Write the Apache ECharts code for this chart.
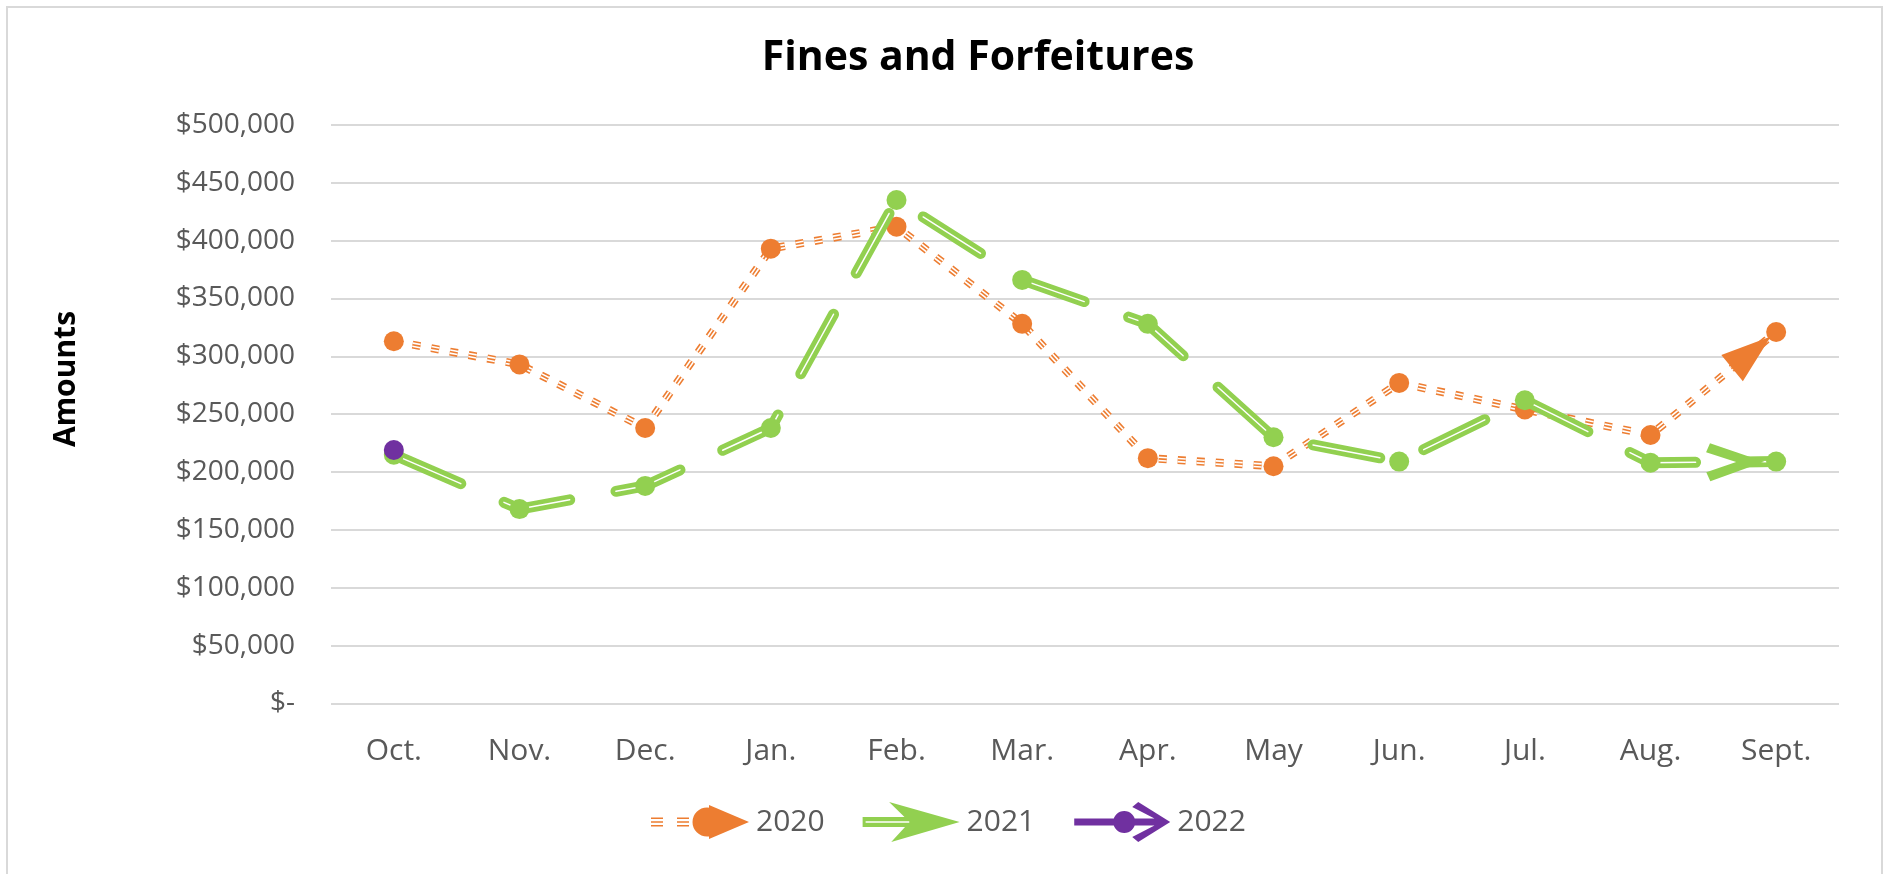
<!DOCTYPE html>
<html>
<head>
<meta charset="utf-8">
<title>Fines and Forfeitures</title>
<script src="https://cdn.jsdelivr.net/npm/echarts@6/dist/echarts.min.js"></script>
<style>
  html, body { margin: 0; padding: 0; background: #ffffff; }
  #chart { width: 1887px; height: 874px; }
</style>
</head>
<body>
<div id="chart"></div>
<script>
// Monthly fines and forfeitures by fiscal year
const months = ['Oct.', 'Nov.', 'Dec.', 'Jan.', 'Feb.', 'Mar.', 'Apr.', 'May', 'Jun.', 'Jul.', 'Aug.', 'Sept.'];
const fy2020 = [313000, 293000, 238000, 393000, 412000, 328000, 212000, 205000, 277000, 254000, 232000, 321000];
const fy2021 = [215000, 168000, 188000, 238000, 435000, 366000, 328000, 230000, 209000, 262000, 208000, 209000];
const fy2022 = [219000, null, null, null, null, null, null, null, null, null, null, null];
const yearNames = ['2020', '2021', '2022'];

// value axis range
const yMin = 0;
const yMax = 500000;
const yStep = 50000;

const ORANGE = '#ED7D31';
const GREEN = '#92D050';
const PURPLE = '#7030A0';
const FONT = 'Open Sans';

// Legend glyphs (100 x 40 boxes; the corner specks pin the bounding box)
const BOX = 'M0,0L0.01,0ZM100,40L99.99,40Z';
function stripes(x0) {
  return ['15.5', '19.2', '22.9'].map(function (y) {
    return 'M' + x0 + ',' + y + 'L' + (x0 + 12) + ',' + y + 'L' + (x0 + 12) + ',' + (+y + 1.6) + 'L' + x0 + ',' + (+y + 1.6) + 'Z';
  }).join('');
}
const icon2020 = 'path://' + BOX + stripes(0) + stripes(26) +
  'M41.5,20A14.5,14.5 0 1 1 70.5,20A14.5,14.5 0 1 1 41.5,20Z' +
  'M58,3L98,20L58,37Z';
const icon2021 = 'path://' + BOX +
  'M1,15L50,15L50,25L1,25Z' +
  'M4,19.3L4,20.7L50,20.7L50,19.3Z' +
  'M27.5,0L98,20L29.6,40L48,20Z';
const icon2022 = 'path://' + BOX +
  'M2,16.5L92,16.5L92,23.5L2,23.5Z' +
  'M41,20A11,11 0 1 1 63,20A11,11 0 1 1 41,20Z' +
  'M66,0L98,20L66,40L60,35L89,20L60,5Z';

// Line-end arrows, pointing up, tip at (0,0); square boxes so the symbol keeps its shape
const arrowTriangle = 'path://M-57,-64L-56.99,-64ZM57,50L56.99,50Z' +
  'M0,0L17,50L-17,50Z';
const arrowOpen = 'path://M-70,-84L-69.99,-84ZM70,56L69.99,56Z' +
  'M0,-2L19,52L10,56L0,26L-10,56L-19,52Z';

function endArrow(values, color, symbol, size, z) {
  const last = values.length - 1;
  return {
    silent: true,
    animation: false,
    z: z,
    symbol: ['none', symbol],
    symbolSize: size,
    label: { show: false },
    emphasis: { disabled: true },
    lineStyle: { color: color, width: 0, type: 'solid', opacity: 1 },
    data: [[
      { coord: [last - 1, values[last - 1]] },
      { coord: [last, values[last]] }
    ]]
  };
}

function layer(name, values, color, width, dash, cap, z, extra) {
  return Object.assign({
    type: 'line',
    name: name,
    data: values,
    z: z,
    silent: true,
    symbol: 'none',
    showSymbol: false,
    itemStyle: { color: color },
    lineStyle: { color: color, width: width, type: dash, cap: cap, join: 'round' },
    emphasis: { disabled: true }
  }, extra || {});
}

function markers(name, values, color, z) {
  return {
    type: 'line',
    name: name,
    data: values,
    z: z,
    silent: true,
    symbol: 'circle',
    symbolSize: 20,
    showSymbol: true,
    itemStyle: { color: color, borderWidth: 0 },
    lineStyle: { width: 0 },
    emphasis: { disabled: true }
  };
}

const dash2020 = [8, 11];
const dash2021 = [68, 47];

const series = [
  // 2020: triple compound dashed line
  layer('2020', fy2020, ORANGE, 8, dash2020, 'butt', 2, {
    markLine: endArrow(fy2020, ORANGE, arrowTriangle, 114, 3)
  }),
  layer('2020', fy2020, ORANGE, 4.8, dash2020, 'butt', 2, { lineStyle: { color: '#ffffff', width: 4.8, type: dash2020, cap: 'butt' } }),
  layer('2020', fy2020, ORANGE, 1.6, dash2020, 'butt', 2),
  markers('2020', fy2020, ORANGE, 4),
  // 2021: double compound long-dash line
  layer('2021', fy2021, GREEN, 11, dash2021, 'round', 5, {
    lineStyle: { color: GREEN, width: 11, type: dash2021, dashOffset: -5, cap: 'round', join: 'round' },
    markLine: endArrow(fy2021, GREEN, arrowOpen, 140, 6)
  }),
  layer('2021', fy2021, GREEN, 1.5, dash2021, 'round', 5, {
    lineStyle: { color: '#ffffff', width: 1.5, type: dash2021, dashOffset: -5, cap: 'round', join: 'round' }
  }),
  markers('2021', fy2021, GREEN, 7),
  // 2022
  markers('2022', fy2022, PURPLE, 8)
];

const chart = echarts.init(document.getElementById('chart'), null, { renderer: 'canvas' });

chart.setOption({
  animation: false,
  backgroundColor: '#ffffff',
  textStyle: { fontFamily: FONT },
  title: {
    text: 'Fines and Forfeitures',
    left: 978,
    top: 38,
    padding: 0,
    textAlign: 'center',
    textStyle: { fontFamily: FONT, fontSize: 41, fontWeight: 'bold', color: '#000000' }
  },
  graphic: [
    {
      type: 'rect',
      silent: true,
      z: -1,
      shape: { x: 7, y: 7, width: 1875, height: 900 },
      style: { fill: 'none', stroke: '#d9d9d9', lineWidth: 2 }
    },
    {
      type: 'text',
      silent: true,
      x: 66,
      y: 379,
      rotation: Math.PI / 2,
      style: {
        text: 'Amounts',
        fontFamily: FONT,
        fontSize: 30,
        fontWeight: 'bold',
        fill: '#000000',
        align: 'center',
        verticalAlign: 'middle',
        textAlign: 'center',
        textVerticalAlign: 'middle'
      }
    }
  ],
  legend: {
    left: 651,
    top: 802,
    padding: 0,
    itemWidth: 100,
    itemHeight: 40,
    itemGap: 37,
    selectedMode: false,
    itemStyle: { borderWidth: 0 },
    textStyle: { fontFamily: FONT, fontSize: 30, color: '#595959' },
    data: [
      { name: yearNames[0], icon: icon2020, itemStyle: { color: ORANGE, borderWidth: 0 } },
      { name: yearNames[1], icon: icon2021, itemStyle: { color: GREEN, borderWidth: 0 } },
      { name: yearNames[2], icon: icon2022, itemStyle: { color: PURPLE, borderWidth: 0 } }
    ]
  },
  grid: { left: 331, right: 48, top: 124.8, bottom: 170.5 },
  xAxis: {
    type: 'category',
    data: months,
    boundaryGap: true,
    axisLine: { show: false },
    axisTick: { show: false },
    splitLine: { show: false },
    axisLabel: { fontFamily: FONT, fontSize: 30, color: '#595959', margin: 33, interval: 0 }
  },
  yAxis: {
    type: 'value',
    min: yMin,
    max: yMax,
    interval: yStep,
    axisLine: { show: false },
    axisTick: { show: false },
    splitLine: { lineStyle: { color: '#d9d9d9', width: 2 } },
    axisLabel: {
      fontFamily: FONT,
      fontSize: 28,
      color: '#595959',
      margin: 36,
      formatter: function (v) {
        return v === 0 ? '$-' : '$' + v.toLocaleString('en-US');
      }
    }
  },
  series: series
});
</script>
</body>
</html>
